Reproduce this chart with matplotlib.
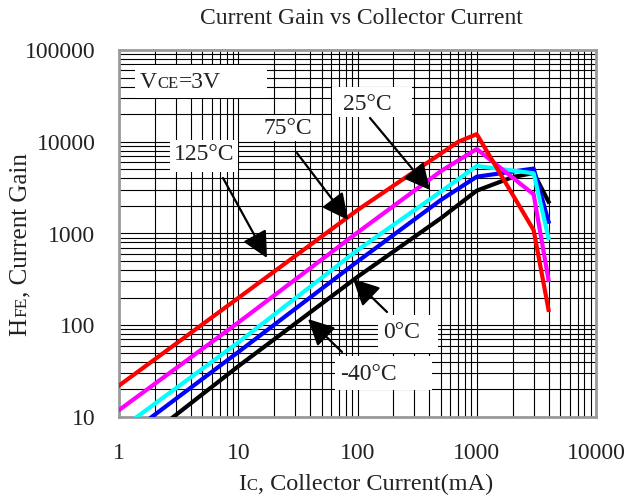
import matplotlib
matplotlib.use('Agg')
import matplotlib.pyplot as plt
from matplotlib.transforms import IdentityTransform
from matplotlib.ticker import LogLocator, NullFormatter
from matplotlib.patches import Rectangle

# ---------------- data ----------------
ic_125 = [1, 10, 100, 700, 1000, 3000, 4000]
hfe_125 = [22, 198, 1800, 10000, 12100, 1090, 147]

ic_75 = [1, 10, 100, 500, 1000, 3000, 4000]
hfe_75 = [11.9, 107, 1025, 4780, 8340, 2670, 311]

ic_25 = [1.41, 10, 100, 500, 1000, 3000, 4000]
hfe_25 = [10, 65, 659, 2860, 5450, 4530, 887]

ic_0 = [1.88, 10, 100, 500, 1000, 3000, 4000]
hfe_0 = [10, 51, 495, 2320, 4160, 5100, 1346]

ic_m40 = [2.85, 10, 100, 500, 1000, 2000, 3000, 4000]
hfe_m40 = [10, 35.7, 337, 1466, 2930, 4120, 4570, 2220]

x_ticks = [1, 10, 100, 1000, 10000]
x_tick_labels = ["1", "10", "100", "1000", "10000"]
y_ticks = [10, 100, 1000, 10000, 100000]
y_tick_labels = ["10", "100", "1000", "10000", "100000"]

title = "Current Gain vs Collector Current"

# ---------------- figure ----------------
W, H = 627, 498
plt.rcParams['font.family'] = ['Liberation Serif', 'DejaVu Serif']
fig = plt.figure(figsize=(W / 100, H / 100), dpi=100)

L, R, T, B = 119, 596, 50, 417
ax = fig.add_axes([L / W, (H - B) / H, (R - L) / W, (B - T) / H])
ax.set_xscale('log')
ax.set_yscale('log')
ax.set_xlim(1, 10000)
ax.set_ylim(10, 100000)

ax.xaxis.set_minor_locator(LogLocator(base=10, subs=range(2, 10)))
ax.yaxis.set_minor_locator(LogLocator(base=10, subs=range(2, 10)))
ax.xaxis.set_minor_formatter(NullFormatter())
ax.yaxis.set_minor_formatter(NullFormatter())
ax.set_xticks(x_ticks)
ax.set_xticklabels(x_tick_labels)
ax.set_yticks(y_ticks)
ax.set_yticklabels(y_tick_labels)
ax.tick_params(which='both', length=0, labelsize=17, colors='#222222')
ax.tick_params(axis='y', pad=17)
ax.tick_params(axis='x', pad=19)

ax.set_axisbelow(True)
ax.grid(True, which='both', color='black', lw=0.8)
for s in ax.spines.values():
    s.set_color('#9a9a9a')
    s.set_linewidth(2)


def afx(px):
    return (px - L) / (R - L)


def afy(py):
    return (B - py) / (B - T)


# white label boxes (cover grid)
boxes = [
    (135, 65, 267, 98),
    (170, 140, 238, 172),
    (262, 115, 313, 141),
    (332, 87, 412, 117),
    (378, 315, 438, 353),
    (335, 356, 432, 390),
]
for x0, y0, x1, y1 in boxes:
    ax.add_patch(Rectangle((afx(x0), afy(y1)), afx(x1) - afx(x0), afy(y0) - afy(y1),
                           transform=ax.transAxes, facecolor='white', edgecolor='none',
                           zorder=1))

# curves
lw = 3.0
ax.plot(ic_m40, hfe_m40, color='black', lw=lw, zorder=3)
ax.plot(ic_0, hfe_0, color='#0000FF', lw=lw, zorder=4)
ax.plot(ic_25, hfe_25, color='#00FFFF', lw=lw, zorder=5)
ax.plot(ic_75, hfe_75, color='#FF00FF', lw=lw, zorder=6)
ax.plot(ic_125, hfe_125, color='#FF0000', lw=lw, zorder=7)

# labels and arrows
labels = [
    ("125°C", 204, 155, (223, 178), (267, 258)),
    ("75°C", 288, 128, (297, 153), (348, 220)),
    ("25°C", 367, 104, (370, 118), (430, 190)),
    ("0°C", 402, 333, (387, 312), (353, 279)),
    ("-40°C", 368, 374, (342, 352), (308, 319)),
]
for txt, tx, ty, tail, tip in labels:
    ax.text(afx(tx), afy(ty), txt, transform=ax.transAxes, ha='center', va='center',
            fontsize=17, color='#222222', zorder=8)
    ax.annotate('', xy=(afx(tip[0]), afy(tip[1])), xycoords='axes fraction',
                xytext=(afx(tail[0]), afy(tail[1])), textcoords='axes fraction',
                arrowprops=dict(arrowstyle='-|>,head_length=0.8,head_width=0.4',
                                mutation_scale=20, lw=1.6, color='black',
                                shrinkA=0, shrinkB=0),
                zorder=9)

fig.text(361 / W, 1 - 18 / H, title, ha='center', va='center', fontsize=17,
         color='#222222')

fig.canvas.draw()
renderer = fig.canvas.get_renderer()


def rich(x, y, pieces, rotation=0):
    for s, size in pieces:
        t = fig.text(x, y, s, fontsize=size, transform=IdentityTransform(),
                     ha='left', va='baseline', rotation=rotation,
                     rotation_mode='anchor', color='#222222', zorder=10)
        bb = t.get_window_extent(renderer=renderer)
        if rotation == 0:
            x = bb.x1 + 0.5
        else:
            y = bb.y1 + 0.5


rich(238, H - 490, [("I", 17.5), ("C", 12), (", Collector Current(mA)", 17.5)])
rich(26, H - 336, [("H", 18), ("FE", 12.5), (", Current Gain", 18)], rotation=90)
rich(140, H - 88, [("V", 17), ("CE", 12), ("=3V", 17)])

fig.savefig('out.png', dpi=100)
